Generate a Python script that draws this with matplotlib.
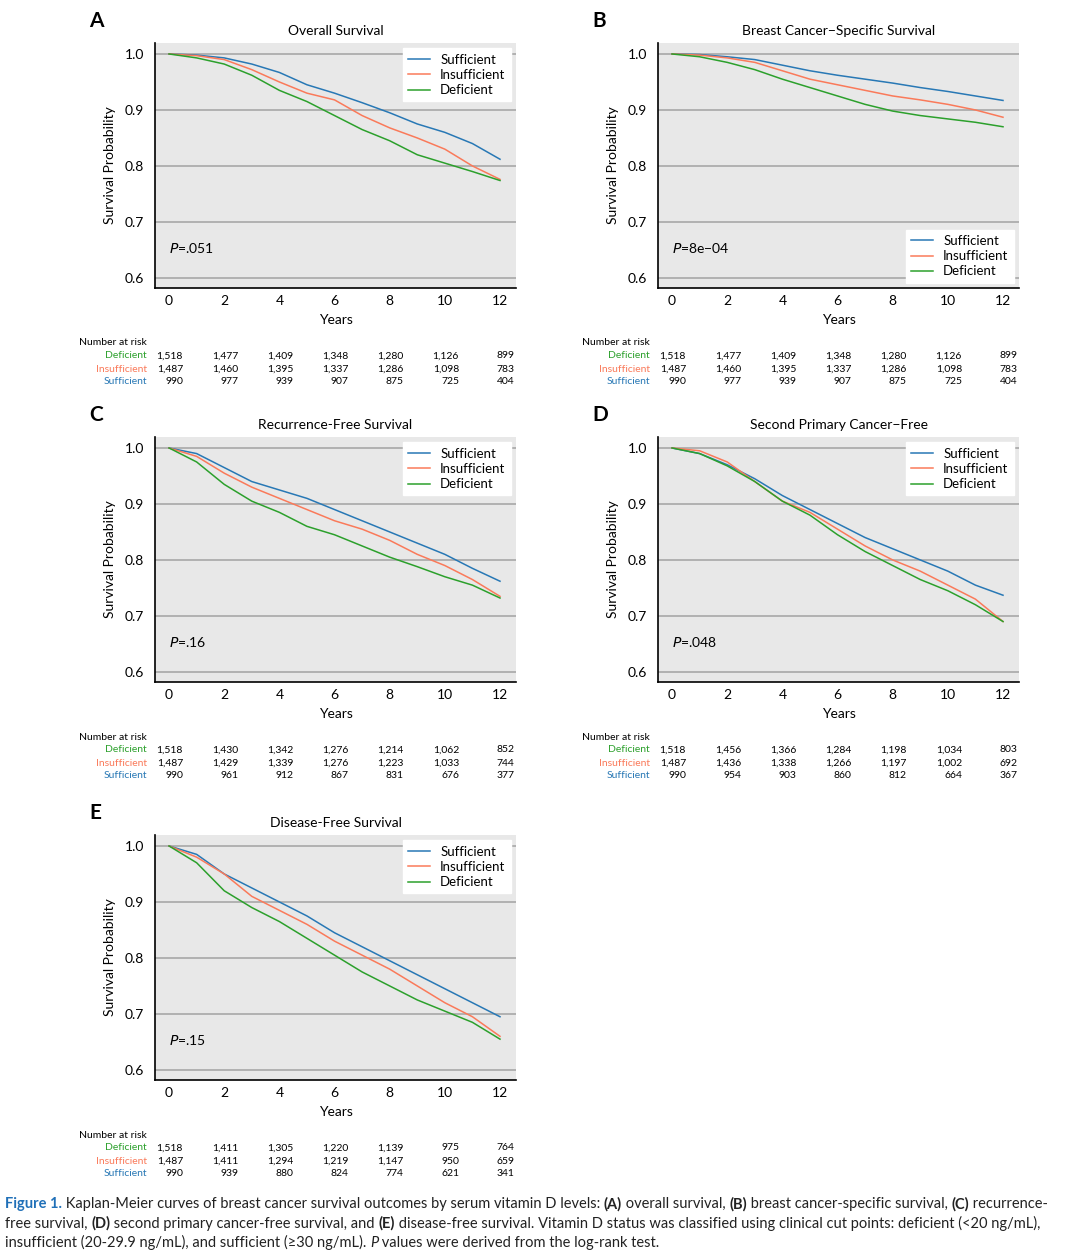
import matplotlib
matplotlib.use("Agg")
import matplotlib.pyplot as plt
from matplotlib.offsetbox import TextArea, HPacker, AnchoredOffsetbox

plt.rcParams["font.family"] = ["Lato", "DejaVu Sans"]

# ---------------- data ----------------
years = [0, 1, 2, 3, 4, 5, 6, 7, 8, 9, 10, 11, 12]
groups = ["Sufficient", "Insufficient", "Deficient"]
colors = {"Sufficient": "#2878b5", "Insufficient": "#fa7a5a", "Deficient": "#2ca02c"}

titles = ["Overall Survival", "Breast Cancer\u2212Specific Survival", "Recurrence-Free Survival",
          "Second Primary Cancer\u2212Free", "Disease-Free Survival"]
letters = ["A", "B", "C", "D", "E"]
pvalues = [".051", "8e\u221204", ".16", ".048", ".15"]

os_suf = [1.0, .998, .993, .982, .967, .945, .930, .913, .895, .875, .860, .840, .812]
os_ins = [1.0, .997, .990, .972, .950, .930, .918, .890, .868, .850, .830, .800, .776]
os_def = [1.0, .993, .982, .962, .935, .915, .890, .865, .845, .820, .805, .790, .774]

bc_suf = [1.0, .999, .995, .990, .980, .970, .962, .955, .948, .940, .933, .925, .917]
bc_ins = [1.0, .998, .993, .985, .970, .955, .945, .935, .925, .918, .910, .900, .887]
bc_def = [1.0, .995, .985, .972, .955, .940, .925, .910, .898, .890, .884, .878, .870]

rf_suf = [1.0, .990, .965, .940, .925, .910, .890, .870, .850, .830, .810, .785, .762]
rf_ins = [1.0, .985, .955, .930, .910, .890, .870, .855, .835, .810, .790, .765, .735]
rf_def = [1.0, .975, .935, .905, .885, .860, .845, .825, .805, .788, .770, .755, .732]

sp_suf = [1.0, .990, .970, .945, .915, .890, .865, .840, .820, .800, .780, .755, .737]
sp_ins = [1.0, .995, .975, .940, .905, .885, .855, .825, .800, .780, .755, .730, .690]
sp_def = [1.0, .990, .968, .940, .905, .880, .845, .815, .790, .765, .745, .720, .690]

df_suf = [1.0, .985, .950, .925, .900, .875, .845, .820, .795, .770, .745, .720, .695]
df_ins = [1.0, .980, .950, .910, .885, .860, .830, .805, .780, .750, .720, .695, .660]
df_def = [1.0, .970, .920, .890, .865, .835, .805, .775, .750, .725, .705, .685, .655]

curves = [
    (os_suf, os_ins, os_def),
    (bc_suf, bc_ins, bc_def),
    (rf_suf, rf_ins, rf_def),
    (sp_suf, sp_ins, sp_def),
    (df_suf, df_ins, df_def),
]

risk_times = [0, 2, 4, 6, 8, 10, 12]
risk_os = {"Deficient": ["1,518", "1,477", "1,409", "1,348", "1,280", "1,126", "899"],
           "Insufficient": ["1,487", "1,460", "1,395", "1,337", "1,286", "1,098", "783"],
           "Sufficient": ["990", "977", "939", "907", "875", "725", "404"]}
risk_rf = {"Deficient": ["1,518", "1,430", "1,342", "1,276", "1,214", "1,062", "852"],
           "Insufficient": ["1,487", "1,429", "1,339", "1,276", "1,223", "1,033", "744"],
           "Sufficient": ["990", "961", "912", "867", "831", "676", "377"]}
risk_sp = {"Deficient": ["1,518", "1,456", "1,366", "1,284", "1,198", "1,034", "803"],
           "Insufficient": ["1,487", "1,436", "1,338", "1,266", "1,197", "1,002", "692"],
           "Sufficient": ["990", "954", "903", "860", "812", "664", "367"]}
risk_df = {"Deficient": ["1,518", "1,411", "1,305", "1,220", "1,139", "975", "764"],
           "Insufficient": ["1,487", "1,411", "1,294", "1,219", "1,147", "950", "659"],
           "Sufficient": ["990", "939", "880", "824", "774", "621", "341"]}
risks = [risk_os, risk_os, risk_rf, risk_sp, risk_df]

# ---------------- layout ----------------
W, H = 1080, 1260
fig = plt.figure(figsize=(W / 100, H / 100), dpi=100)

# (left px, top px) of each axes box
boxes = [(155, 43), (658, 43), (155, 437), (658, 437), (155, 835)]
AX_W, AX_H = 361, 245
legend_loc = ["upper right", "lower right", "upper right", "upper right", "upper right"]

for i in range(5):
    lx, ty = boxes[i]
    ax = fig.add_axes([lx / W, 1 - (ty + AX_H) / H, AX_W / W, AX_H / H])
    ax.set_facecolor("#e8e8e8")
    for s in ["top", "right"]:
        ax.spines[s].set_visible(False)
    ax.spines["left"].set_linewidth(1.2)
    ax.spines["bottom"].set_linewidth(1.2)
    ax.set_xlim(-0.51, 12.58)
    ax.set_ylim(0.582, 1.0196)
    ax.set_yticks([0.6, 0.7, 0.8, 0.9, 1.0])
    ax.set_xticks(risk_times)
    ax.yaxis.grid(True, color="#a8a8a8", lw=1.2)
    ax.set_axisbelow(True)
    ax.tick_params(length=0, labelsize=10)
    ax.tick_params(axis="x", pad=5)
    ax.tick_params(axis="y", pad=8)
    for g, ys in zip(groups, curves[i]):
        ax.plot(years, ys, color=colors[g], lw=1.1, label=g)
    ax.set_xlabel("Years", fontsize=10, labelpad=5)
    ax.set_ylabel("Survival Probability", fontsize=10, labelpad=6)
    ax.set_title(titles[i], fontsize=10, pad=6)
    ax.legend(loc=legend_loc[i], fontsize=9.5, frameon=True, fancybox=False,
              framealpha=1, edgecolor="white", handlelength=1.6,
              labelspacing=0.25, borderaxespad=0.4)
    ax.text(0.0, 0.645, "$\\it{P}$=" + pvalues[i], fontsize=10)
    fig.text((lx - 66) / W, 1 - (ty - 22) / H, letters[i], fontsize=15,
             fontweight="bold", va="center", ha="left")

    # number at risk table
    base = ty + AX_H + 55
    fig.text((lx - 8) / W, 1 - base / H, "Number at risk", fontsize=7.5,
             ha="right", va="center")
    for r, g in enumerate(["Deficient", "Insufficient", "Sufficient"]):
        yy = 1 - (base + 13 * (r + 1)) / H
        fig.text((lx - 8) / W, yy, g, fontsize=7.5, color=colors[g],
                 ha="right", va="center")
        for t, val in zip(risk_times, risks[i][g]):
            xx = lx + 14 + 27.6 * t + 14
            fig.text(xx / W, yy, val, fontsize=7.5, ha="right", va="center")

# ---------------- caption ----------------
def caption_line(parts, y_px):
    areas = []
    for txt, kw in parts:
        props = dict(fontsize=10.5, color="#222222")
        props.update(kw)
        areas.append(TextArea(txt, textprops=props))
    box = HPacker(children=areas, align="baseline", pad=0, sep=0)
    ab = AnchoredOffsetbox(loc="center left", child=box, frameon=False, pad=0,
                           borderpad=0, bbox_to_anchor=(5 / W, 1 - y_px / H),
                           bbox_transform=fig.transFigure)
    fig.add_artist(ab)

B = {"fontweight": "bold"}
caption_line([("Figure 1.", {"fontweight": "bold", "color": "#2070b8"}),
              (" Kaplan-Meier curves of breast cancer survival outcomes by serum vitamin D levels: ", {}),
              ("(A)", B), (" overall survival, ", {}), ("(B)", B),
              (" breast cancer-specific survival, ", {}), ("(C)", B), (" recurrence-", {})], 1204)
caption_line([("free survival, ", {}), ("(D)", B), (" second primary cancer-free survival, and ", {}),
              ("(E)", B), (" disease-free survival. Vitamin D status was classified using clinical cut points: deficient (<20 ng/mL),", {})], 1223)
caption_line([("insufficient (20-29.9 ng/mL), and sufficient (\u226530 ng/mL). ", {}),
              ("P", {"style": "italic"}), (" values were derived from the log-rank test.", {})], 1242)

fig.savefig("out.png", dpi=100, facecolor="white")
